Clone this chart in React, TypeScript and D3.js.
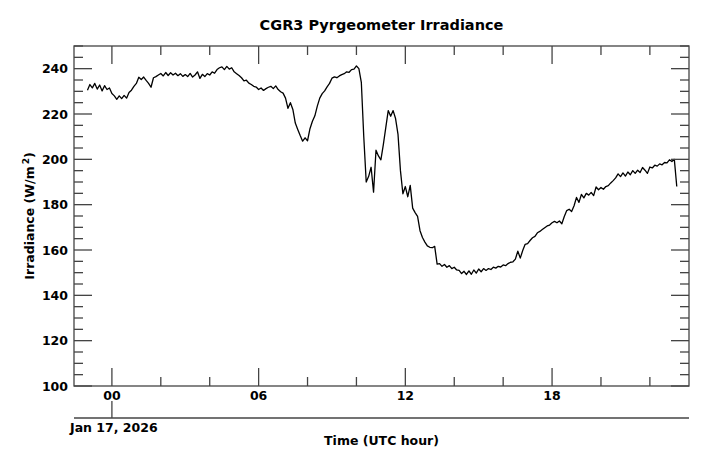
import React from "react";
import * as d3 from "d3";

const title = "CGR3 Pyrgeometer Irradiance";
const yLabel = "Irradiance (W/m";
const xLabel = "Time (UTC hour)";
const dateLabel = "Jan 17, 2026";
const yMajorTicks = [100, 120, 140, 160, 180, 200, 220, 240];
const xMajorTicks = [0, 6, 12, 18];
const xMajorLabels = ["00", "06", "12", "18"];
const startHour = -1.0;
const stepHour = 0.1;
const irradiance = [
  230.5, 233.0, 231.5, 233.5, 231.0, 232.8, 230.2, 232.5, 230.8, 231.5,
  229.0, 228.0, 226.5, 228.0, 226.8, 228.2, 227.0, 229.5, 230.5, 232.2,
  233.5, 236.2, 235.2, 236.3, 234.8, 233.5, 231.8, 236.0, 236.5, 237.2,
  237.9, 236.8, 238.3, 237.0, 238.2, 237.2, 238.0, 236.9, 237.8, 236.6,
  237.4, 236.5, 237.9, 236.3, 237.2, 238.6, 235.7, 237.5, 236.5, 237.8,
  237.2, 238.6, 238.0, 239.6, 240.4, 240.8, 239.6, 241.0, 239.8, 240.4,
  238.6, 237.8, 237.0, 236.0, 234.6, 234.9, 233.6, 233.0, 232.2, 231.9,
  230.8, 231.5, 230.4, 231.2, 231.8, 232.2, 231.2, 232.4, 230.8, 229.8,
  229.2, 227.0, 222.5, 225.0, 222.0, 216.0, 213.2, 210.5, 208.0, 209.5,
  208.2, 213.5, 216.8, 219.2, 223.5, 227.0, 229.0, 230.2, 232.0, 233.5,
  235.8, 236.4, 236.0, 236.8, 237.4, 237.8, 238.6, 238.4, 239.6, 239.8,
  241.2, 240.0, 234.0, 210.0, 190.0, 192.5, 196.5, 185.5, 204.0, 201.5,
  199.8, 206.5, 214.0, 221.5, 219.0, 221.5, 218.0, 211.0, 195.0, 184.8,
  188.0, 183.5, 188.5, 178.5, 176.5, 174.8, 168.5, 165.5, 163.5, 161.8,
  161.2, 161.0, 161.6, 153.8, 154.0, 152.8, 153.6, 152.4, 153.1, 151.8,
  152.4, 151.2, 151.0, 149.6, 150.6, 149.2, 150.8, 149.3, 151.2, 149.8,
  151.6, 150.4, 151.8, 151.0, 151.8, 151.4, 152.4, 152.0, 152.8, 152.5,
  153.4, 153.1, 154.0, 154.6, 154.8, 156.0, 159.5, 156.4, 159.8, 162.5,
  162.8, 164.2, 165.4, 166.0, 167.6, 168.2, 169.0, 169.8, 170.6, 171.0,
  172.0, 172.6, 172.0, 172.8, 171.6, 174.8, 177.4, 178.0, 177.0, 179.5,
  183.2, 181.0, 184.5, 183.0, 185.0, 184.2, 185.4, 184.0, 187.8, 186.6,
  187.6, 186.8, 188.0, 188.4, 189.6, 190.6, 191.8, 193.6, 192.4, 194.0,
  192.6, 194.4, 193.2, 195.0, 193.8, 195.2, 194.2, 196.4, 195.2, 193.8,
  196.6, 196.2, 197.4, 197.0, 198.0, 197.6, 198.6, 198.4, 199.8, 199.0,
  200.0, 188.0,
];

const W = 711;
const H = 467;
const M = { left: 74, right: 689, top: 46, bottom: 386 };
const font = "'DejaVu Sans', sans-serif";
const axisColor = "#444";

export default function App() {
  const x = d3.scaleLinear().domain([-1.55, 23.6]).range([M.left, M.right]);
  const y = d3.scaleLinear().domain([100, 250]).range([M.bottom, M.top]);
  const data = irradiance.map((v, i) => ({ h: startHour + i * stepHour, v }));
  const line = d3
    .line<{ h: number; v: number }>()
    .x((d) => x(d.h))
    .y((d) => y(d.v));

  const yMinor = d3.range(100, 251, 5).filter((v) => v % 20 !== 0);
  const xMinor = d3.range(-0, 24, 2).filter((h) => h % 6 !== 0);
  const majLen = 18;
  const minLen = 9;

  return (
    <svg width={W} height={H} style={{ position: "absolute", left: 0, top: 0 }}>
      <rect width={W} height={H} fill="#fff" />
      <text x={381.5} y={30} textAnchor="middle" fontFamily={font} fontWeight="bold" fontSize={14.5} fill="#000">
        {title}
      </text>
      <path d={line(data) || ""} fill="none" stroke="#000" strokeWidth={1.3} strokeLinejoin="round" />
      <rect x={M.left} y={M.top} width={M.right - M.left} height={M.bottom - M.top} fill="none" stroke={axisColor} strokeWidth={1.3} />
      {yMajorTicks.map((v) => (
        <g key={"ym" + v}>
          <line x1={M.left} x2={M.left + majLen} y1={y(v)} y2={y(v)} stroke={axisColor} strokeWidth={1.3} />
          <line x1={M.right} x2={M.right - majLen} y1={y(v)} y2={y(v)} stroke={axisColor} strokeWidth={1.3} />
          <text x={68} y={y(v) + 4.5} textAnchor="end" fontFamily={font} fontWeight="bold" fontSize={12.5} fill="#000">
            {v}
          </text>
        </g>
      ))}
      {yMinor.map((v) => (
        <g key={"yn" + v}>
          <line x1={M.left} x2={M.left + minLen} y1={y(v)} y2={y(v)} stroke={axisColor} strokeWidth={1.3} />
          <line x1={M.right} x2={M.right - minLen} y1={y(v)} y2={y(v)} stroke={axisColor} strokeWidth={1.3} />
        </g>
      ))}
      {xMajorTicks.map((h, i) => (
        <g key={"xm" + h}>
          <line x1={x(h)} x2={x(h)} y1={M.bottom} y2={M.bottom - majLen} stroke={axisColor} strokeWidth={1.3} />
          <line x1={x(h)} x2={x(h)} y1={M.top} y2={M.top + majLen} stroke={axisColor} strokeWidth={1.3} />
          <text x={x(h)} y={400} textAnchor="middle" fontFamily={font} fontWeight="bold" fontSize={12.5} fill="#000">
            {xMajorLabels[i]}
          </text>
        </g>
      ))}
      {xMinor.map((h) => (
        <g key={"xn" + h}>
          <line x1={x(h)} x2={x(h)} y1={M.bottom} y2={M.bottom - minLen} stroke={axisColor} strokeWidth={1.3} />
          <line x1={x(h)} x2={x(h)} y1={M.top} y2={M.top + minLen} stroke={axisColor} strokeWidth={1.3} />
        </g>
      ))}
      <line x1={M.left} x2={M.right} y1={418} y2={418} stroke={axisColor} strokeWidth={1.3} />
      <line x1={x(0)} x2={x(0)} y1={418} y2={401} stroke={axisColor} strokeWidth={1.3} />
      <text x={70} y={432} fontFamily={font} fontWeight="bold" fontSize={12.5} fill="#000">
        {dateLabel}
      </text>
      <text x={381.5} y={445} textAnchor="middle" fontFamily={font} fontWeight="bold" fontSize={12.5} fill="#000">
        {xLabel}
      </text>
      <text
        transform={`translate(34,${(M.top + M.bottom) / 2}) rotate(-90)`}
        textAnchor="middle"
        fontFamily={font}
        fontWeight="bold"
        fontSize={12.5}
        fill="#000"
      >
        {yLabel}
        <tspan dx={2} dy={-5} fontSize={9}>2</tspan>
        <tspan dy={5}>)</tspan>
      </text>
    </svg>
  );
}
